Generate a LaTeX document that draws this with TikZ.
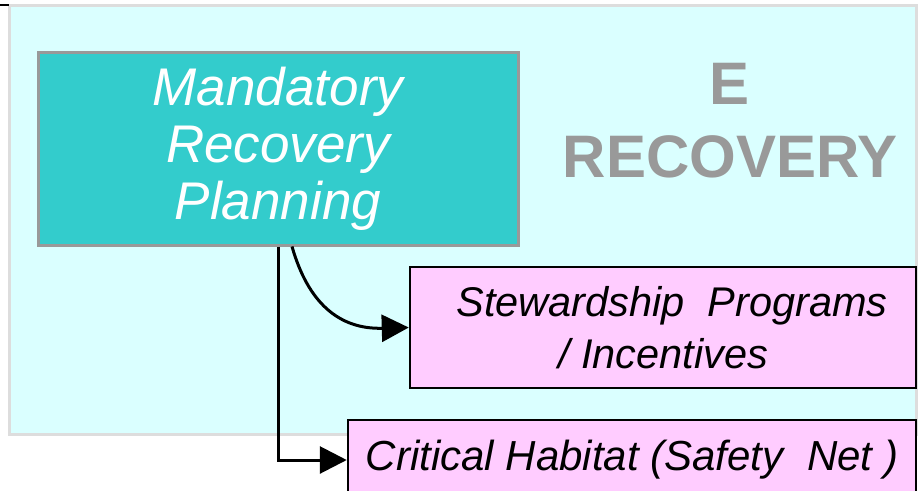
\documentclass[tikz,border=0pt]{standalone}
\usepackage{fontspec}
\setmainfont{Liberation Sans}
\usetikzlibrary{arrows.meta}
\definecolor{panelbg}{RGB}{218,255,255}
\definecolor{panelbd}{RGB}{221,221,221}
\definecolor{tealfill}{RGB}{51,204,204}
\definecolor{tealbd}{RGB}{153,153,153}
\definecolor{pinkfill}{RGB}{255,204,255}
\definecolor{labelgray}{RGB}{153,153,153}
\tikzset{
  pinkbox/.style={draw=black, line width=2.5pt, fill=pinkfill, inner sep=0pt, align=center},
  conn/.style={draw=black, line width=3pt, -{Triangle[length=27pt,width=27pt]}},
}
\begin{document}
\begin{tikzpicture}[x=1pt,y=-1pt]
\useasboundingbox (0,0) rectangle (920,490);
\fill[white] (0,0) rectangle (920,490);
% panel
\draw[draw=panelbd, line width=3pt, fill=panelbg] (9.5,5.5) rectangle (916.5,434);
\draw[line width=2pt] (0,5) -- (9,5);
% teal box
\node[draw=tealbd, line width=3pt, fill=tealfill, minimum width=480pt, minimum height=193pt,
  inner sep=0pt, align=center, text=white, font=\itshape\fontsize{53}{57}\selectfont]
  (mrp) at (278,148.5) {\raisebox{-3pt}{\parbox{470pt}{\centering Mandatory\\Recovery\\Planning}}};
% title
\node[text=labelgray, font=\bfseries\fontsize{60}{73}\selectfont, align=center, inner sep=0pt]
  (title) at (730,121) {E\\RECOVERY};
% pink boxes
\node[pinkbox, minimum width=506pt, minimum height=121pt, font=\itshape\fontsize{41.5}{52}\selectfont]
  (sp) at (663,327.5) {\hspace*{18pt}Stewardship\ \ Programs\\/ Incentives};
\node[pinkbox, minimum width=568pt, minimum height=80pt, font=\itshape\fontsize{42}{52}\selectfont]
  (ch) at (632,460) {Critical Habitat (Safety\ \ Net )};
% connectors
\draw[conn] (mrp.south) |- (ch.west);
\draw[conn] ([xshift=14pt]mrp.south) .. controls +(16,56) and +(-70,2) .. (sp.west);
\end{tikzpicture}
\end{document}
